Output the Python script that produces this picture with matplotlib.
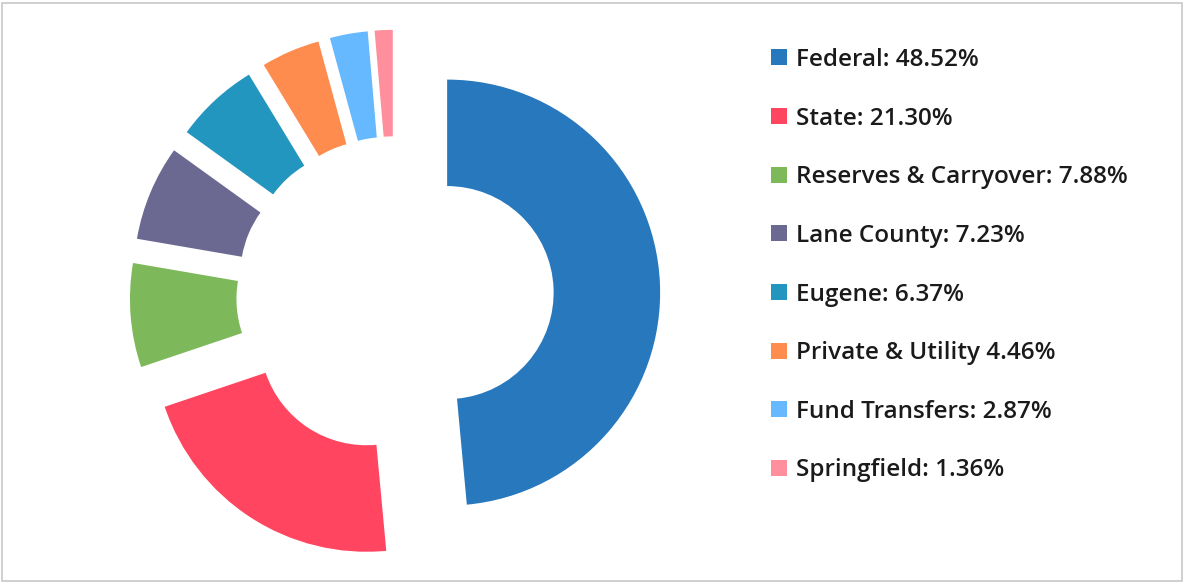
import matplotlib
matplotlib.use('Agg')
import matplotlib.pyplot as plt
from matplotlib.patches import Rectangle

# Data
categories = ['Federal', 'State', 'Reserves & Carryover', 'Lane County', 'Eugene',
              'Private & Utility', 'Fund Transfers', 'Springfield']
shares = [48.52, 21.30, 7.88, 7.23, 6.37, 4.46, 2.87, 1.36]
label_seps = [': ', ': ', ': ', ': ', ': ', ' ', ': ', ': ']
colors = ['#2878BD', '#FF4560', '#7DB95A', '#6B6992', '#2396BF',
          '#FF8C4F', '#66B8FF', '#FF8F9C']

plt.rcParams['font.family'] = ['Open Sans', 'DejaVu Sans']

W, H = 1184, 584
fig = plt.figure(figsize=(W / 100, H / 100), dpi=100)
ax = fig.add_axes([0, 0, 1, 1])

# pixel-like data space, center of unexploded donut
cx, cy, R = 395, H - 295, 213
wedges, _ = ax.pie(shares, colors=colors, startangle=90, counterclock=False,
                   radius=R, center=(cx, cy), explode=[0.245 * R] * len(shares),
                   wedgeprops=dict(width=R * 0.5, linewidth=0))
ax.set_xlim(0, W)
ax.set_ylim(0, H)
ax.set_aspect('auto')
ax.axis('off')

# light frame around the chart
ax.add_patch(Rectangle((2, 3), W - 4, H - 6, fill=False, edgecolor='#c8c8c8', linewidth=1.2))

labels = [f'{c}{s}{v:.2f}%' for c, s, v in zip(categories, label_seps, shares)]
fig.legend(wedges, labels, loc='upper left', bbox_to_anchor=(771 / W, 1 - 48 / H),
           frameon=False, prop=dict(size=17.5, weight='semibold'), handlelength=0.66,
           handleheight=0.64, handletextpad=0.37, labelspacing=1.425, borderpad=0,
           borderaxespad=0, labelcolor='#1a1a1a')

plt.savefig('out.png', dpi=100)
plt.close()
